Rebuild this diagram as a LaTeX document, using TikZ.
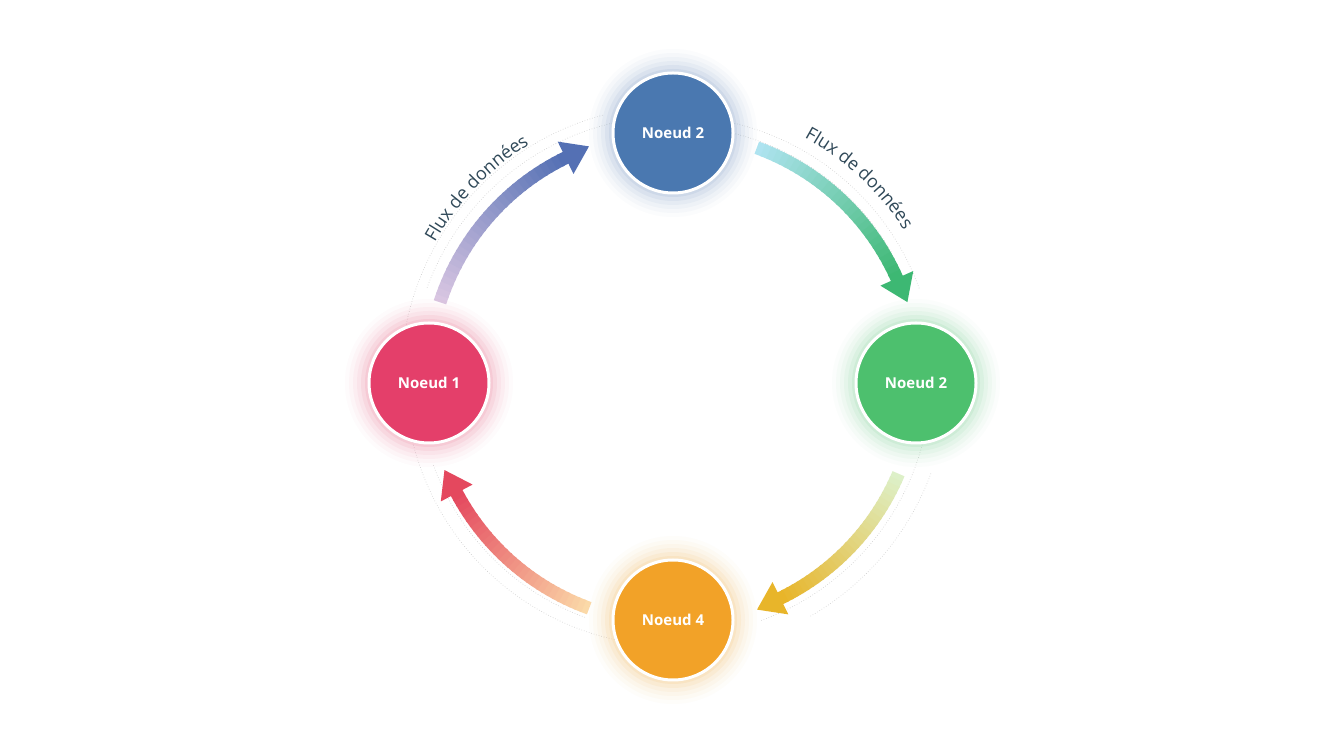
\documentclass[tikz,border=0pt]{standalone}
\usepackage{fontspec}
\setmainfont{Open Sans}
\usetikzlibrary{arrows.meta,decorations.text,calc}
\definecolor{nblue}{HTML}{4A78B0}
\definecolor{ngreen}{HTML}{4DC06E}
\definecolor{norange}{HTML}{F2A228}
\definecolor{npink}{HTML}{E43F6A}
\definecolor{lbl}{HTML}{2F4858}
\definecolor{a1s}{HTML}{D9C6E2}\definecolor{a1e}{HTML}{5470B4}
\definecolor{a2s}{HTML}{AEE3F0}\definecolor{a2e}{HTML}{3DB873}
\definecolor{a3s}{HTML}{DDF0C8}\definecolor{a3e}{HTML}{E8B52A}
\definecolor{a4s}{HTML}{FBD9A8}\definecolor{a4e}{HTML}{E4485E}
\tikzset{
 node/.style={circle,minimum size=120pt,draw=white,line width=3pt,text=white,font=\bfseries\fontsize{15}{18}\selectfont},
 lab/.style={decorate,decoration={text along path,text align=center,text color=lbl,text={|\fontsize{18}{21}\selectfont|Flux de donn{é}es}}}
}
\newcommand{\gradarc}[4]{% start, end (clockwise), col1, col2
 \foreach \i in {0,...,29}{
  \pgfmathsetmacro\aa{#1+(#2-#1)*\i/30}
  \pgfmathsetmacro\bb{#1+(#2-#1)*(\i+1.3)/30}
  \pgfmathsetmacro\tt{100*\i/29}
  \draw[line width=13pt,color=#4!\tt!#3] (673,374)+(\aa:245) arc[start angle=\aa,end angle=\bb,radius=245];
 }
 \coordinate (P) at ($(673,374)+(#2:245)$);
 \fill[#4] ($(P)+(#2:18)$) -- ($(P)+(#2-90:26)$) -- ($(P)+(#2:-18)$) -- cycle;
}
\newcommand{\glow}[2]{\foreach \k/\o in {24/0.02,20/0.03,16/0.04,12/0.05,8/0.07,4/0.09}{\fill[#2,opacity=\o] (#1) circle[radius=60pt+\k pt];}}
\begin{document}
\begin{tikzpicture}[x=1pt,y=1pt]
\useasboundingbox (0,0) rectangle (1344,752);
\fill[white] (0,0) rectangle (1344,752);
\foreach \r/\s/\e in {262/100/160,272/105/170,255/-160/-110,268/-170/-100,258/-70/-10,275/-60/-20,262/20/80,252/30/85}
 \draw[gray!40,dotted,line width=0.6pt] (673,374)+(\s:\r) arc[start angle=\s,end angle=\e,radius=\r];
\gradarc{162}{116}{a1s}{a1e}
\gradarc{70}{24}{a2s}{a2e}
\gradarc{-23}{-64}{a3s}{a3e}
\gradarc{-110}{-152}{a4s}{a4e}
\path[lab] (673,374)+(158:274) arc[start angle=158,end angle=114,radius=274];
\path[lab] (673,374)+(70:274) arc[start angle=70,end angle=24,radius=274];
\glow{673,619}{nblue}\glow{916,369}{ngreen}\glow{673,132}{norange}\glow{429,369}{npink}
\node[node,fill=nblue] (n2a) at (673,619) {Noeud 2};
\node[node,fill=ngreen] (n2b) at (916,369) {Noeud 2};
\node[node,fill=norange] (n4) at (673,132) {Noeud 4};
\node[node,fill=npink] (n1) at (429,369) {Noeud 1};
\end{tikzpicture}
\end{document}
